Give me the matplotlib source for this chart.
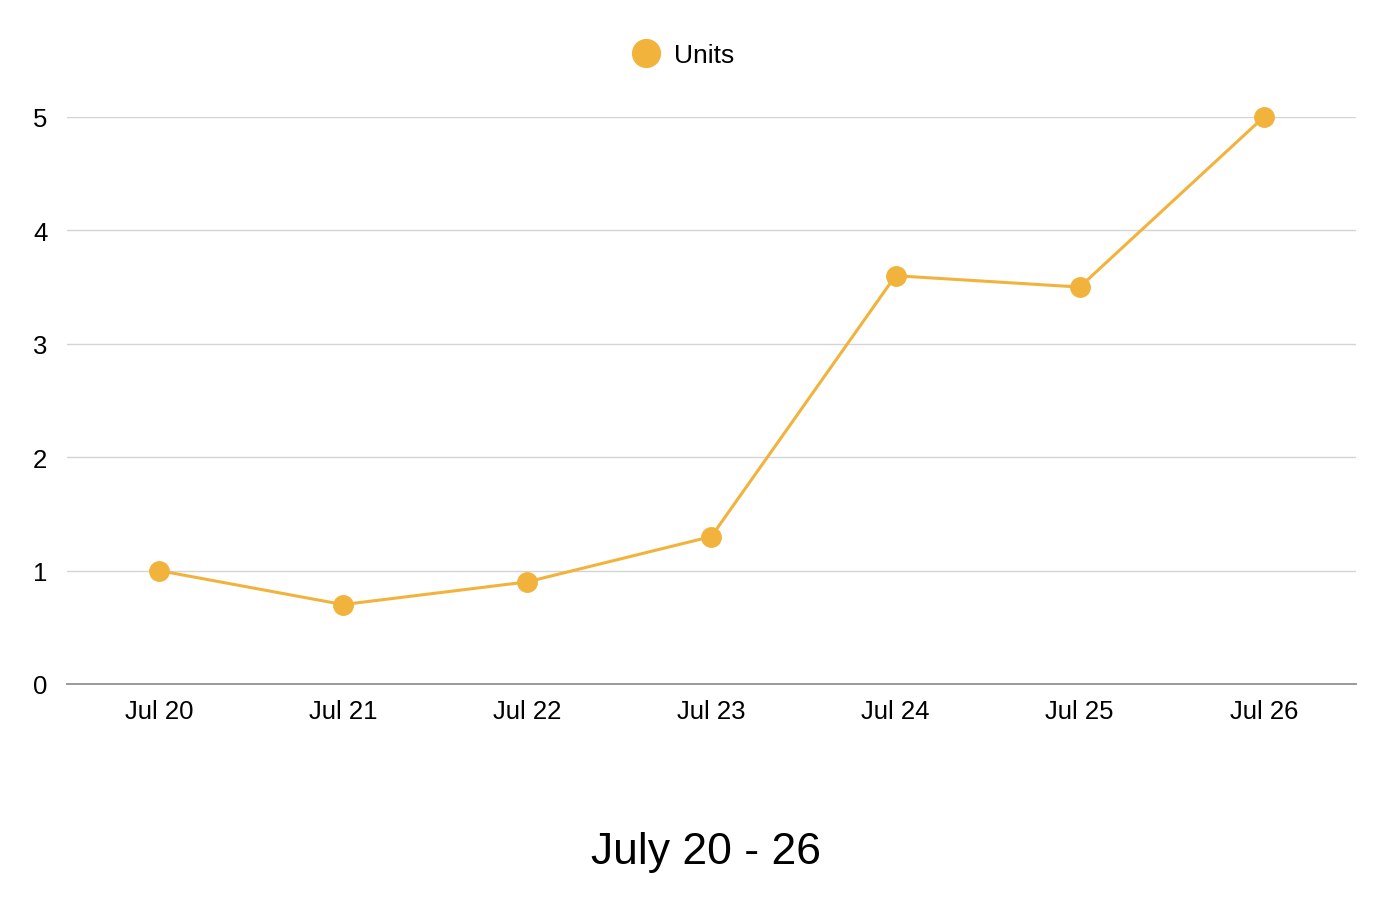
import matplotlib.pyplot as plt
from matplotlib.lines import Line2D

plt.rcParams["font.family"] = ["Liberation Sans", "DejaVu Sans"]

DAYS = ["Jul 20", "Jul 21", "Jul 22", "Jul 23", "Jul 24", "Jul 25", "Jul 26"]
UNITS = [1.0, 0.7, 0.9, 1.3, 3.6, 3.5, 5.0]
Y_TICKS = [0, 1, 2, 3, 4, 5]

LINE_COLOR = "#F2B33D"


def main():
    fig = plt.figure(figsize=(13.9, 9.04), dpi=100)
    ax = fig.add_axes([0.048, 0.2423, 0.9275, 0.6272])

    x = list(range(len(DAYS)))
    ax.plot(x, UNITS, color=LINE_COLOR, linewidth=2.2, marker="o",
            markersize=14, clip_on=False, zorder=3)

    ax.set_xlim(-0.5, len(DAYS) - 0.5)
    ax.set_ylim(0, 5)
    ax.set_xticks(x)
    ax.set_xticklabels(DAYS)
    ax.set_yticks(Y_TICKS)

    ax.tick_params(axis="both", length=0, labelsize=18.5)
    ax.tick_params(axis="x", pad=11)
    ax.tick_params(axis="y", pad=14)

    ax.grid(axis="y", color="#d4d4d4", linewidth=1.0)
    ax.set_axisbelow(True)
    for side in ["top", "right", "left"]:
        ax.spines[side].set_visible(False)
    ax.spines["bottom"].set_color("#9a9a9a")
    ax.spines["bottom"].set_linewidth(1.4)
    ax.spines["bottom"].set_zorder(2)

    handle = Line2D([], [], color=LINE_COLOR, marker="o", linestyle="none",
                    markersize=20)
    fig.legend([handle], ["Units"], loc="center", bbox_to_anchor=(0.487, 0.938),
               frameon=False, fontsize=19, handletextpad=0.05)

    fig.text(0.508, 0.057, "July 20 - 26", ha="center", va="center", fontsize=32)

    fig.savefig("out.png", dpi=100)
    plt.close(fig)


if __name__ == "__main__":
    main()
